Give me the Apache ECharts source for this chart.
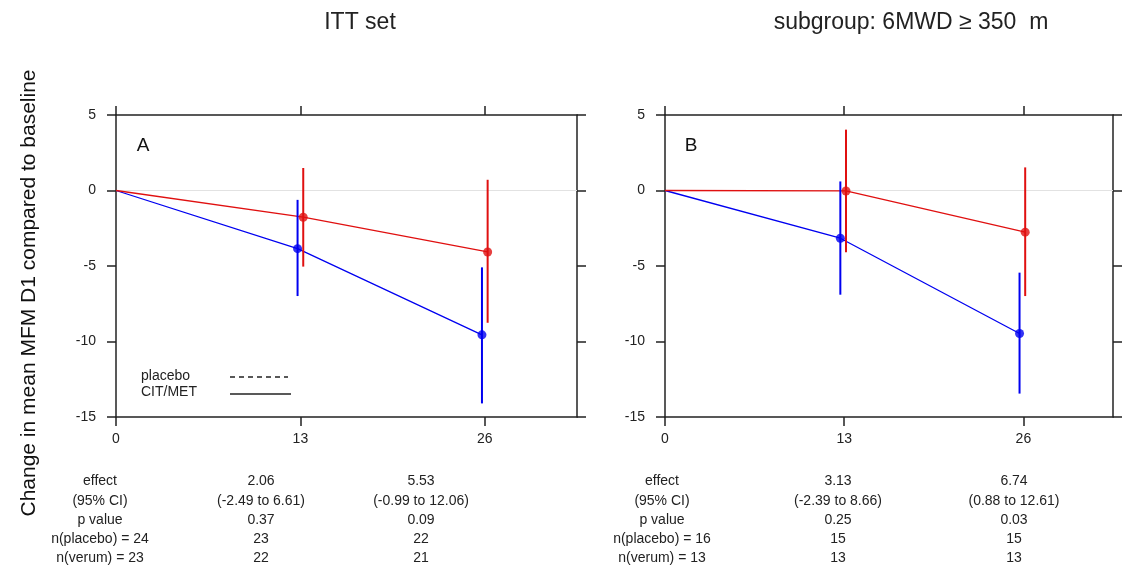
<!DOCTYPE html>
<html>
<head>
<meta charset="utf-8">
<script src="https://cdn.jsdelivr.net/npm/echarts@6/dist/echarts.min.js"></script>
<style>
    body { margin: 0; background: #fff; }
    #main { width: 1136px; height: 569px; }
</style>
</head>
<body>
<div id="main"></div>
<script>
// weeks of treatment
var weeks = [0, 13, 26];

// panel A: ITT set (mean change and 95% CI)
var placeboA = [0, -1.77, -4.07];
var placeboLowA = [0, -5.04, -8.76];
var placeboHighA = [0, 1.49, 0.71];
var verumA = [0, -3.85, -9.56];
var verumLowA = [0, -6.99, -14.1];
var verumHighA = [0, -0.62, -5.09];

// panel B: subgroup 6MWD >= 350 m
var placeboB = [0, -0.03, -2.76];
var placeboLowB = [0, -4.09, -6.99];
var placeboHighB = [0, 4.03, 1.53];
var verumB = [0, -3.16, -9.47];
var verumLowB = [0, -6.9, -13.45];
var verumHighB = [0, 0.6, -5.44];

// tables under the panels
var rowLabels = ['effect', '(95% CI)', 'p value'];
var effectA = ['2.06', '5.53'];
var ciA = ['(-2.49 to 6.61)', '(-0.99 to 12.06)'];
var pA = ['0.37', '0.09'];
var nPlaceboA = [24, 23, 22];
var nVerumA = [23, 22, 21];
var effectB = ['3.13', '6.74'];
var ciB = ['(-2.39 to 8.66)', '(0.88 to 12.61)'];
var pB = ['0.25', '0.03'];
var nPlaceboB = [16, 15, 15];
var nVerumB = [13, 13, 13];

var RED = '#e01010';
var BLUE = '#0000f0';
var FONT = '"Liberation Sans", Arial, sans-serif';

var myChart = echarts.init(document.getElementById('main'));

function points(values, dodge) {
    var res = [];
    for (var i = 0; i < weeks.length; i++) {
        res.push([weeks[i] === 0 ? 0 : weeks[i] + dodge, values[i]]);
    }
    return res;
}

function dots(values, dodge) {
    return points(values, dodge).slice(1);
}

function bars(low, high, dodge) {
    var res = [];
    for (var i = 1; i < weeks.length; i++) {
        res.push([weeks[i] + dodge, low[i], high[i]]);
    }
    return res;
}

function renderBar(params, api) {
    var x = api.value(0);
    var lo = api.coord([x, api.value(1)]);
    var hi = api.coord([x, api.value(2)]);
    return {
        type: 'line',
        shape: {x1: lo[0], y1: lo[1], x2: hi[0], y2: hi[1]},
        style: {stroke: api.visual('color'), lineWidth: 2}
    };
}

function xAxes(gridIndex) {
    var base = {
        type: 'value', gridIndex: gridIndex, min: 0, max: 32.5, interval: 13,
        splitLine: {show: false},
        axisLine: {onZero: false, lineStyle: {color: '#222', width: 1.5}},
        axisTick: {show: true, length: 9, inside: false, customValues: [0, 13, 26],
            lineStyle: {color: '#222', width: 1.5}}
    };
    var bottom = echarts.util.merge({
        position: 'bottom',
        axisLabel: {customValues: [0, 13, 26], margin: 15, fontSize: 14, color: '#222', fontFamily: FONT}
    }, base);
    var top = echarts.util.merge({position: 'top', axisLabel: {show: false}}, base);
    return [bottom, top];
}

function yAxes(gridIndex) {
    var base = {
        type: 'value', gridIndex: gridIndex, min: -15, max: 5, interval: 5,
        splitLine: {show: false},
        axisLine: {onZero: false, lineStyle: {color: '#222', width: 1.5}},
        axisTick: {show: true, length: 9, lineStyle: {color: '#222', width: 1.5}}
    };
    var left = echarts.util.merge({
        position: 'left',
        axisLabel: {margin: 20, fontSize: 14, color: '#222', fontFamily: FONT}
    }, base);
    var right = echarts.util.merge({position: 'right', axisLabel: {show: false}}, base);
    return [left, right];
}

function panelSeries(axisIndex, placebo, pLow, pHigh, verum, vLow, vHigh, dodgeP, dodgeV) {
    return [
        {
            // zero reference line, kept underneath everything else
            type: 'line', xAxisIndex: axisIndex, yAxisIndex: axisIndex, z: 1,
            data: [], silent: true,
            markLine: {
                z: 1, silent: true, symbol: 'none', label: {show: false},
                lineStyle: {color: '#e2e2e2', width: 1, type: 'solid'},
                data: [{yAxis: 0}]
            }
        },
        {
            type: 'line', xAxisIndex: axisIndex, yAxisIndex: axisIndex, z: 3,
            data: points(verum, dodgeV), showSymbol: false, silent: true,
            lineStyle: {color: BLUE, width: 1.3}
        },
        {
            type: 'line', xAxisIndex: axisIndex, yAxisIndex: axisIndex, z: 3,
            data: points(placebo, dodgeP), showSymbol: false, silent: true,
            lineStyle: {color: RED, width: 1.3}
        },
        {
            type: 'custom', xAxisIndex: axisIndex, yAxisIndex: axisIndex, z: 4,
            renderItem: renderBar, data: bars(vLow, vHigh, dodgeV),
            encode: {x: 0, y: [1, 2]}, itemStyle: {color: BLUE}
        },
        {
            type: 'custom', xAxisIndex: axisIndex, yAxisIndex: axisIndex, z: 4,
            renderItem: renderBar, data: bars(pLow, pHigh, dodgeP),
            encode: {x: 0, y: [1, 2]}, itemStyle: {color: RED}
        },
        {
            type: 'scatter', xAxisIndex: axisIndex, yAxisIndex: axisIndex, z: 5,
            data: dots(verum, dodgeV), symbolSize: 9, itemStyle: {color: BLUE}
        },
        {
            type: 'scatter', xAxisIndex: axisIndex, yAxisIndex: axisIndex, z: 5,
            data: dots(placebo, dodgeP), symbolSize: 9, itemStyle: {color: RED}
        }
    ];
}

function tableText(colX, effect, ci, p, nPlacebo, nVerum) {
    var rowY = [481, 501, 520, 539, 558];
    var rows = [
        [rowLabels[0], effect[0], effect[1]],
        [rowLabels[1], ci[0], ci[1]],
        [rowLabels[2], p[0], p[1]],
        ['n(placebo) = ' + nPlacebo[0], String(nPlacebo[1]), String(nPlacebo[2])],
        ['n(verum) = ' + nVerum[0], String(nVerum[1]), String(nVerum[2])]
    ];
    var res = [];
    for (var r = 0; r < rows.length; r++) {
        for (var c = 0; c < 3; c++) {
            res.push({
                type: 'text', x: colX[c], y: rowY[r],
                style: {text: rows[r][c], fill: '#222', font: '14px ' + FONT,
                    textAlign: 'center', textVerticalAlign: 'middle'}
            });
        }
    }
    return res;
}

var graphics = [
    {type: 'text', x: 360, y: 23, style: {text: 'ITT set', fill: '#222', font: '23px ' + FONT,
        textAlign: 'center', textVerticalAlign: 'middle'}},
    {type: 'text', x: 911, y: 23, style: {text: 'subgroup: 6MWD \u2265 350  m', fill: '#222', font: '23px ' + FONT,
        textAlign: 'center', textVerticalAlign: 'middle'}},
    {type: 'text', x: 29, y: 293, rotation: Math.PI / 2,
        style: {text: 'Change in mean MFM D1 compared to baseline', fill: '#111', font: '21px ' + FONT,
            textAlign: 'center', textVerticalAlign: 'middle'}},
    {type: 'text', x: 143, y: 146, style: {text: 'A', fill: '#111', font: '19px ' + FONT,
        textAlign: 'center', textVerticalAlign: 'middle'}},
    {type: 'text', x: 691, y: 146, style: {text: 'B', fill: '#111', font: '19px ' + FONT,
        textAlign: 'center', textVerticalAlign: 'middle'}},
    // legend (line types only)
    {type: 'text', x: 141, y: 376, style: {text: 'placebo', fill: '#222', font: '14px ' + FONT,
        textVerticalAlign: 'middle'}},
    {type: 'text', x: 141, y: 392, style: {text: 'CIT/MET', fill: '#222', font: '14px ' + FONT,
        textVerticalAlign: 'middle'}},
    {type: 'line', shape: {x1: 230, y1: 377, x2: 288, y2: 377},
        style: {stroke: '#222', lineWidth: 1.3, lineDash: [5, 4]}},
    {type: 'line', shape: {x1: 230, y1: 394, x2: 291, y2: 394},
        style: {stroke: '#222', lineWidth: 1.3}}
];
graphics = graphics.concat(tableText([100, 261, 421], effectA, ciA, pA, nPlaceboA, nVerumA));
graphics = graphics.concat(tableText([662, 838, 1014], effectB, ciB, pB, nPlaceboB, nVerumB));

myChart.setOption({
    animation: false,
    backgroundColor: '#fff',
    grid: [
        {left: 116, top: 115, width: 461, height: 302},
        {left: 665, top: 115, width: 448, height: 302}
    ],
    xAxis: xAxes(0).concat(xAxes(1)),
    yAxis: yAxes(0).concat(yAxes(1)),
    series: panelSeries(0, placeboA, placeboLowA, placeboHighA, verumA, verumLowA, verumHighA, 0.2, -0.2)
        .concat(panelSeries(2, placeboB, placeboLowB, placeboHighB, verumB, verumLowB, verumHighB, 0.13, -0.28)),
    graphic: graphics
});
</script>
</body>
</html>
